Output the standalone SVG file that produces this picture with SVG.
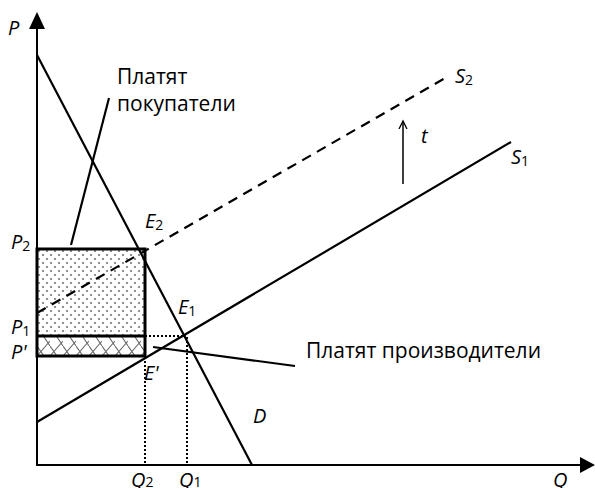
<svg xmlns="http://www.w3.org/2000/svg" width="595" height="488" viewBox="0 0 595 488">
<style>
.lbl{font-family:"Open Sans","Noto Sans",sans-serif;font-size:20px;font-style:italic;fill:#000}
.sub{font-style:normal;font-size:14px}
.txt{font-family:"Open Sans","Noto Sans",sans-serif;font-size:21px;fill:#000}
.ln{stroke:#000;stroke-width:2.2;fill:none}
.dot{stroke:#000;stroke-width:2;stroke-dasharray:2 2;fill:none}
</style>
<defs>
<pattern id="dots" width="8" height="8" patternUnits="userSpaceOnUse" x="37" y="249">
<rect width="8" height="8" fill="#fff"/>
<circle cx="2" cy="2" r="1.1" fill="#777"/>
<circle cx="6" cy="6" r="1.1" fill="#777"/>
</pattern>
<pattern id="hatch" width="13" height="19" patternUnits="userSpaceOnUse" x="37" y="337">
<rect width="13" height="19" fill="#fff"/>
<path d="M0,19 L13,4 M0,9 L7,19 M7,0 L13,9" stroke="#666" stroke-width="1.1" fill="none"/>
</pattern>
<marker id="arr" markerWidth="10" markerHeight="10" refX="8" refY="5" orient="auto" markerUnits="userSpaceOnUse">
<path d="M0,1 L8,5 L0,9" fill="none" stroke="#000" stroke-width="1.3"/>
</marker>
</defs>
<g id="axes">
<line x1="37" y1="466" x2="37" y2="26" stroke="#000" stroke-width="2"/>
<polygon points="37,12 29,29 45,29" fill="#000"/>
<line x1="36" y1="465" x2="582" y2="465" stroke="#000" stroke-width="2"/>
<polygon points="595,465 580,457 580,473" fill="#000"/>
</g>
<g id="areas">
<rect id="buyers-area" x="37" y="249" width="108" height="87" fill="url(#dots)"/>
<rect id="producers-area" x="37" y="336" width="108" height="20" fill="url(#hatch)"/>
<rect x="37" y="249" width="108" height="107" fill="none" stroke="#000" stroke-width="3"/>
<line x1="37" y1="336" x2="145" y2="336" stroke="#000" stroke-width="3"/>
</g>
<g id="connectors">
<line id="D" class="ln" x1="37" y1="55" x2="252" y2="465"/>
<line id="S1" class="ln" x1="37" y1="422" x2="511" y2="142"/>
<line id="S2" class="ln" x1="37" y1="313" x2="447" y2="77" stroke-dasharray="10 7"/>
<line class="dot" x1="145" y1="336" x2="186" y2="336"/>
<line class="dot" x1="187" y1="337" x2="187" y2="465"/>
<line class="dot" x1="145" y1="357" x2="145" y2="465"/>
<line class="ln" x1="109" y1="98" x2="71" y2="245"/>
<line class="ln" x1="153" y1="347" x2="295" y2="366" stroke-width="1.8"/>
<line x1="403" y1="184" x2="403" y2="121" stroke="#000" stroke-width="1.5" marker-end="url(#arr)"/>
</g>
<g id="labels">
<text class="lbl" x="8" y="35">P</text>
<text class="lbl" x="11" y="249">P<tspan class="sub" dy="2">2</tspan></text>
<text class="lbl" x="11" y="334">P<tspan class="sub" dy="2">1</tspan></text>
<text class="lbl" x="11" y="359">P'</text>
<text class="lbl" x="145" y="228">E<tspan class="sub" dy="2">2</tspan></text>
<text class="lbl" x="178" y="314">E<tspan class="sub" dy="2">1</tspan></text>
<text class="lbl" x="144" y="380">E'</text>
<text class="lbl" x="253" y="423">D</text>
<text class="lbl" x="455" y="83">S<tspan class="sub" dy="2">2</tspan></text>
<text class="lbl" x="511" y="164">S<tspan class="sub" dy="2">1</tspan></text>
<text class="lbl" x="421" y="143">t</text>
<text class="lbl" x="131" y="487">Q<tspan class="sub">2</tspan></text>
<text class="lbl" x="179" y="487">Q<tspan class="sub">1</tspan></text>
<text class="lbl" x="553" y="487">Q</text>
<text class="txt" x="117" y="84">Платят</text>
<text class="txt" x="117" y="111">покупатели</text>
<text class="txt" x="306" y="358">Платят производители</text>
</g>
</svg>
